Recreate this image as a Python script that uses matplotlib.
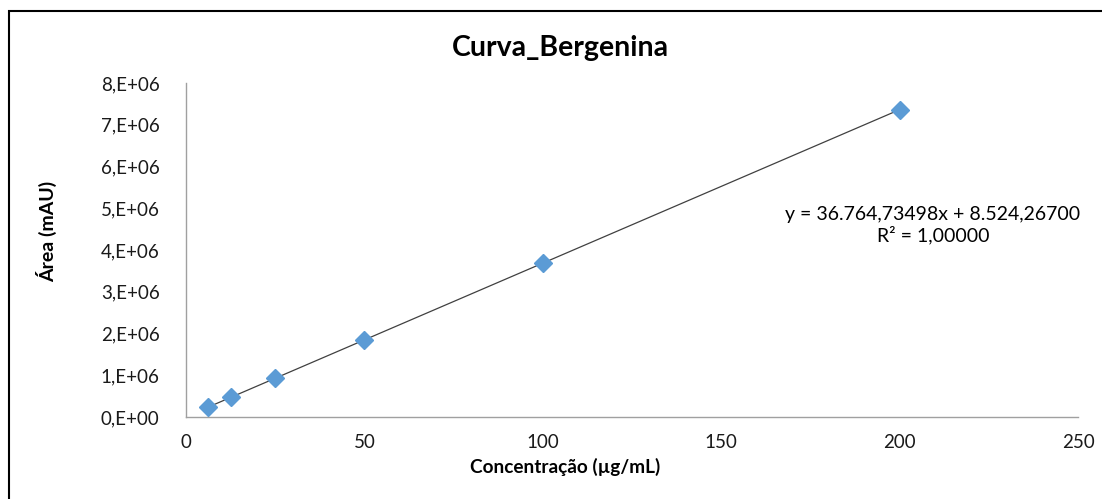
import matplotlib.pyplot as plt
from matplotlib.patches import Rectangle
from matplotlib.ticker import FuncFormatter

# Calibration data: concentration (µg/mL) vs peak area (mAU)
concentracao = [6.25, 12.5, 25, 50, 100, 200]
area = [238304, 468083, 927643, 1846761, 3684998, 7361471]

# Linear fit reported on the chart
slope = 36764.73498
intercept = 8524.26700

x_ticks = [0, 50, 100, 150, 200, 250]
y_ticks = [0, 1e6, 2e6, 3e6, 4e6, 5e6, 6e6, 7e6, 8e6]

plt.rcParams['font.family'] = ['Lato', 'DejaVu Sans']


def sci_label(v, pos):
    if v == 0:
        return "0,E+00"
    exp = 0
    m = v
    while m >= 10:
        m /= 10
        exp += 1
    return f"{int(round(m))},E+{exp:02d}"


def main():
    fig = plt.figure(figsize=(11.02, 4.99), dpi=100)
    ax = fig.add_axes([186 / 1102, 1 - 417 / 499, (1078 - 186) / 1102, (417 - 83) / 499])

    # outer chart frame
    fig.patches.append(Rectangle((9 / 1102, -0.01), 1.1, 1 - 11 / 499 + 0.01,
                                 transform=fig.transFigure, fill=False,
                                 edgecolor='black', linewidth=1.5))

    fit_y = [slope * x + intercept for x in (concentracao[0], concentracao[-1])]
    ax.plot([concentracao[0], concentracao[-1]], fit_y, color='#404040', linewidth=0.9, zorder=2)
    ax.plot(concentracao, area, linestyle='none', marker='D', markersize=9,
            color='#5B9BD5', markeredgecolor='#5B9BD5', zorder=3)

    ax.set_xlim(0, 250)
    ax.set_ylim(0, 8e6)
    ax.set_xticks(x_ticks)
    ax.set_yticks(y_ticks)
    ax.yaxis.set_major_formatter(FuncFormatter(sci_label))
    ax.tick_params(length=0, labelsize=13.5, colors='#404040', labelcolor='#1a1a1a')
    ax.tick_params(axis='x', pad=12)
    ax.tick_params(axis='y', pad=19)

    for side in ('top', 'right'):
        ax.spines[side].set_visible(False)
    for side in ('left', 'bottom'):
        ax.spines[side].set_color('#a0a0a0')
        ax.spines[side].set_linewidth(1)

    fig.text(560 / 1102, 1 - 48 / 499, "Curva_Bergenina", ha='center', va='center',
             fontsize=20.5, fontweight='bold')
    fig.text(565 / 1102, 1 - 467 / 499, "Concentração (µg/mL)", ha='center', va='center',
             fontsize=13.7, fontweight='bold')
    fig.text(47 / 1102, 1 - 231 / 499, "Área (mAU)", ha='center', va='center',
             rotation=90, fontsize=14, fontweight='bold')

    eq = f"y = 36.764,73498x + 8.524,26700\nR² = 1,00000"
    fig.text(933 / 1102, 1 - 225 / 499, eq, ha='center', va='center',
             multialignment='center', fontsize=14, linespacing=1.15)

    fig.savefig("out.png", dpi=100)


if __name__ == "__main__":
    main()
